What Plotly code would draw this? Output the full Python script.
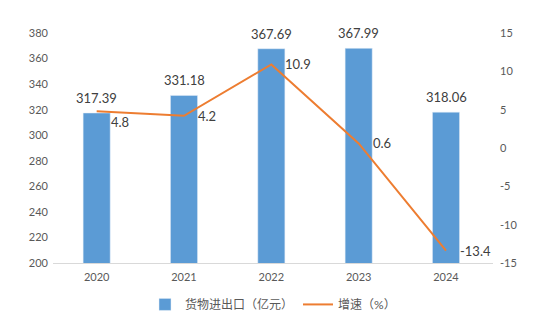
import plotly.graph_objects as go

years = ["2020", "2021", "2022", "2023", "2024"]
trade = [317.39, 331.18, 367.69, 367.99, 318.06]
growth = [4.8, 4.2, 10.9, 0.6, -13.4]
growth_label_dy = [-11, 0, 0, 0, 0]
left_ticks = [200, 220, 240, 260, 280, 300, 320, 340, 360, 380]
right_ticks = [-15, -10, -5, 0, 5, 10, 15]

FONT = "Lato, 'Noto Sans CJK SC', sans-serif"
LABEL_FONT = dict(size=13, color="#404040", family=FONT)
TICK_FONT = dict(size=11, color="#595959")

fig = go.Figure()
fig.add_trace(go.Bar(
    x=years, y=trade, name="货物进出口（亿元）",
    marker=dict(color="#5B9BD5"),
    width=0.31,
))
fig.add_trace(go.Scatter(
    x=years, y=growth, name="增速（%）", yaxis="y2",
    mode="lines", line=dict(color="#ED7D31", width=2),
))

# value labels above the bars (category axis: annotations use the serial index)
for i, v in enumerate(trade):
    fig.add_annotation(x=i, y=v, xref="x", yref="y", text=f"{v:.2f}",
                       showarrow=False, yanchor="middle", yshift=15,
                       font=LABEL_FONT)

# growth labels to the right of the line points
for i, (g, dy) in enumerate(zip(growth, growth_label_dy)):
    fig.add_annotation(x=i, y=g, xref="x", yref="y2", text=f"{g:g}",
                       showarrow=False, xanchor="left", yanchor="middle",
                       xshift=12, yshift=dy, font=LABEL_FONT)

fig.update_layout(
    width=538, height=330,
    margin=dict(l=53, r=45, t=33, b=66),
    plot_bgcolor="white", paper_bgcolor="white",
    font=dict(family=FONT, size=11, color="#595959"),
    xaxis=dict(type="category", showgrid=False, showline=True,
               linecolor="#D9D9D9", linewidth=1,
               ticks="", tickfont=TICK_FONT, ticklabelstandoff=4),
    yaxis=dict(range=[200, 380], tickvals=left_ticks,
               ticktext=[str(v) for v in left_ticks],
               showgrid=False, zeroline=False, showline=False, ticks="",
               tickfont=TICK_FONT, ticklabelstandoff=4),
    yaxis2=dict(range=[-15, 15], tickvals=right_ticks,
                ticktext=[str(v) for v in right_ticks],
                overlaying="y", side="right",
                showgrid=False, zeroline=False, showline=False, ticks="",
                tickfont=TICK_FONT, ticklabelstandoff=6),
    legend=dict(orientation="h", x=0.5, xanchor="center", y=-0.175, yanchor="middle",
                font=dict(size=12, color="#595959"), traceorder="normal"),
)

fig.write_html("out.html")
